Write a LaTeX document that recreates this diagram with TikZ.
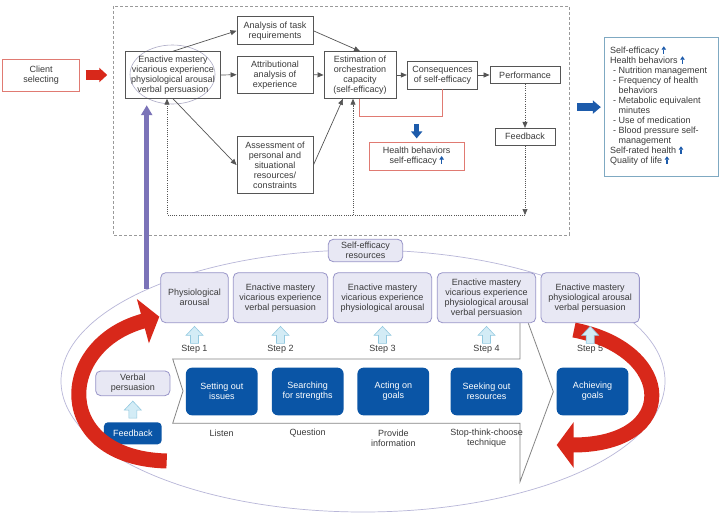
\documentclass[tikz,border=0pt]{standalone}
\usepackage{fontspec}
\setmainfont{Liberation Sans}
\usetikzlibrary{arrows.meta,shapes.geometric}
\definecolor{txtc}{HTML}{3A3A3A}
\definecolor{boxgray}{HTML}{555555}
\definecolor{dashgray}{HTML}{9A9A9A}
\definecolor{redbord}{HTML}{E07A72}
\definecolor{redC}{HTML}{D8281A}
\definecolor{icoblue}{HTML}{1D5BAB}
\definecolor{tealbord}{HTML}{7FA9C2}
\definecolor{purpC}{HTML}{7B73B8}
\definecolor{lavfill}{HTML}{E8E8F4}
\definecolor{lavbord}{HTML}{9894C8}
\definecolor{ellc}{HTML}{B8B6D8}
\definecolor{dblueC}{HTML}{0A55A6}
\definecolor{lbfill}{HTML}{D3ECF6}
\definecolor{lbbord}{HTML}{93C9E0}
\definecolor{chevC}{HTML}{858585}
\newcommand\upicon{\tikz[baseline=0pt,x=1pt,y=1pt]\draw[draw=icoblue,line width=1.1pt,-{Triangle[width=4.5pt,length=3.5pt]}](0,0)--(0,7.5);}
\tikzset{
  topbox/.style={draw=boxgray, line width=0.9pt, fill=white, align=center, inner sep=0pt},
  redbox/.style={draw=redbord, line width=0.9pt, fill=white, align=center, inner sep=0pt},
  lav/.style={draw=lavbord, fill=lavfill, rounded corners=5pt, line width=0.8pt, align=center, inner sep=0pt},
  dbox/.style={fill=dblueC, rounded corners=6pt, text=white, align=center, inner sep=0pt},
  conn/.style={draw=boxgray, line width=0.7pt, -{Triangle[width=5pt,length=6pt]}},
  dotconn/.style={draw=boxgray, line width=0.7pt, dash pattern=on 1.1pt off 1.1pt, -{Triangle[width=5pt,length=6pt]}},
  lbl/.style={align=center, inner sep=0pt},
  redarr/.style={draw=redC, line width=15pt, -{Triangle[width=45pt,length=17pt]}},
  lbup/.pic={\draw[draw=lbbord, fill=lbfill, line width=0.6pt] (-4,0) -- (-4,-8) -- (-8.5,-8) -- (0,-17) -- (8.5,-8) -- (4,-8) -- (4,0) -- cycle;}
}
\begin{document}
\begin{tikzpicture}[x=1pt,y=-1pt, font=\fontsize{9}{10}\selectfont, text=txtc]
\useasboundingbox[fill=white] (0,0) rectangle (719,513);

% ===== top part =====
\draw[dashgray, line width=0.7pt, dash pattern=on 3pt off 2pt] (113,6) rectangle (569,235);

\node[redbox, minimum width=77pt, minimum height=32pt] (client) at (41.2,75) {Client\\selecting};

\draw[ellc!80!gray, line width=0.6pt] (172.5,74.5) ellipse [x radius=42.5, y radius=29.5];
\node[topbox, fill=none, minimum width=94.6pt, minimum height=46.6pt] (enact) at (173,75) {Enactive mastery\\vicarious experience\\physiological arousal\\verbal persuasion};
\node[topbox, minimum width=76pt, minimum height=28.3pt] (task) at (275,30.8) {Analysis of task\\requirements};
\node[topbox, minimum width=76pt, minimum height=37.3pt] (attr) at (275,74.7) {Attributional\\analysis of\\experience};
\node[topbox, minimum width=76pt, minimum height=56.6pt] (assess) at (275,165) {Assessment of\\personal and\\situational\\resources/\\constraints};
\node[topbox, minimum width=72pt, minimum height=46.6pt] (est) at (360,75) {Estimation of\\orchestration\\capacity\\(self-efficacy)};
\node[topbox, minimum width=70.4pt, minimum height=28pt] (cons) at (442.5,75) {Consequences\\of self-efficacy};
\node[topbox, minimum width=70pt, minimum height=16.6pt] (perf) at (525,75) {Performance};
\node[topbox, minimum width=60pt, minimum height=16.7pt] (fb) at (525,136.7) {Feedback};
\node[redbox, minimum width=94.7pt, minimum height=27.7pt] (hb) at (416.7,156.2) {Health behaviors\\self-efficacy \upicon};

\draw[conn] (enact.north) -- (task.west);
\draw[conn] (task.east) -- (est.north);
\draw[conn] (enact.east) -- (attr.west);
\draw[conn] (attr.east) -- (est.west);
\draw[conn] (enact.south) -- (assess.west);
\draw[conn] (assess.east) -- ([xshift=-17pt]est.south);
\draw[conn] (est.east) -- (cons.west);
\draw[conn] (cons.east) -- (perf.west);

\coordinate (fbend) at (525,215);
\draw[dotconn] (perf.south) -- (fb.north);
\draw[dotconn] (fb.south) -- (fbend);
\draw[dotconn] (fbend) -| ([xshift=-6pt]enact.south);
\draw[dotconn] ([xshift=-7pt]est.south |- fbend) -- ([xshift=-7pt]est.south);

\draw[redbord, line width=0.9pt] ([xshift=-1pt]est.south) -- ++(0,17.7) -| (cons.south);
\draw[icoblue, line width=5pt, -{Triangle[width=11pt,length=7pt]}] ([yshift=18pt]hb.north) -- ([yshift=3.5pt]hb.north);

\draw[redC, line width=9.5pt, -{Triangle[width=14pt,length=8pt]}] ([xshift=5.5pt]client.east) -- ([xshift=-18pt]enact.west);

% outcomes box
\node[draw=tealbord, line width=0.9pt, minimum width=113.7pt, minimum height=138.7pt, anchor=north west, inner sep=0pt] (outbox) at (604.3,37.3) {};
\node[anchor=north west, align=left, inner sep=0pt] (outtxt) at (610,45.5) {Self-efficacy \upicon\\Health behaviors \upicon\\\hspace*{3pt}- Nutrition management\\\hspace*{3pt}- Frequency of health\\\hspace*{8.5pt}behaviors\\\hspace*{3pt}- Metabolic equivalent\\\hspace*{8.5pt}minutes\\\hspace*{3pt}- Use of medication\\\hspace*{3pt}- Blood pressure self-\\\hspace*{8.5pt}management\\Self-rated health \upicon\\Quality of life \upicon};
\draw[icoblue, line width=8.3pt, -{Triangle[width=13pt,length=8pt]}] ([xshift=-27pt]outbox.west) -- ([xshift=-3.5pt]outbox.west);

% ===== bottom part =====
\draw[ellc, line width=0.7pt] (363,381) ellipse [x radius=302, y radius=131];

\draw[chevC, line width=0.8pt] (520,323) -- (520,359) -- (172.7,359) -- (183,391) -- (172.7,423.3) -- (520,423.3) -- (520,481.7) -- (553.3,391.7) -- (528.3,323.3);

\node[lav, minimum width=74.4pt, minimum height=22.4pt] (res) at (365.5,250.5) {Self-efficacy\\resources};
\node[lav, minimum width=67.6pt, minimum height=50pt] (b1) at (194.5,297.7) {Physiological\\arousal};
\node[lav, minimum width=94.4pt, minimum height=50pt] (b2) at (280.5,297.7) {Enactive mastery\\vicarious experience\\verbal persuasion};
\node[lav, minimum width=98.4pt, minimum height=50pt] (b3) at (382.5,297.7) {Enactive mastery\\vicarious experience\\physiological arousal};
\node[lav, minimum width=98.4pt, minimum height=50pt] (b4) at (486.5,297.7) {Enactive mastery\\vicarious experience\\physiological arousal\\verbal persuasion};
\node[lav, minimum width=98.3pt, minimum height=50pt] (b5) at (590.2,297.7) {Enactive mastery\\physiological arousal\\verbal persuasion};

\foreach \b/\n in {b1/1,b2/2,b3/3,b4/4,b5/5}{
  \node[lbl] (st\n) at ([yshift=-26.6pt]\b.south) {Step \n};
}

\node[dbox, minimum width=71.7pt, minimum height=47.6pt] (d1) at (221.8,391.5) {Setting out\\issues};
\node[dbox, minimum width=71.7pt, minimum height=47.6pt] (d2) at (307.7,391.5) {Searching\\for strengths};
\node[dbox, minimum width=71.7pt, minimum height=47.6pt] (d3) at (393.3,391.5) {Acting on\\goals};
\node[dbox, minimum width=71.7pt, minimum height=47.6pt] (d4) at (486.5,391.5) {Seeking out\\resources};
\node[dbox, minimum width=71.7pt, minimum height=47.6pt] (d5) at (592.5,391.5) {Achieving\\goals};

\node[lbl] (l1) at (221.7,433.3) {Listen};
\node[lbl] (l2) at (307.7,433.3) {Question};
\node[lbl] (l3) at (393.3,438.3) {Provide\\information};
\node[lbl] (l4) at (486.7,438.3) {Stop-think-choose\\technique};

\node[lav, minimum width=74.3pt, minimum height=24.7pt] (vp) at (132.8,383.3) {Verbal\\persuasion};
\node[dbox, rounded corners=4pt, minimum width=57.7pt, minimum height=22pt] (fbk) at (132.8,433.3) {Feedback};

% red curved arrows
\draw[redarr] (166.7,461) .. controls (52,458) and (55,345) .. (159.3,316.7);
\draw[redarr] (574,330) .. controls (676,350) and (680,445) .. (556.7,445);

% light blue step arrows
\foreach \b in {b1,b2,b3,b4,b5}{
  \pic at ([yshift=-20.3pt]\b.south) {lbup};
}
\pic at ([yshift=4pt]fbk.north) {lbup};

% purple arrow
\coordinate (pstart) at (146.7,288.5);
\draw[purpC, line width=5pt, -{Triangle[width=11pt,length=10pt]}] (pstart) -- ([xshift=-26.3pt,yshift=-6.5pt]enact.south);
\end{tikzpicture}
\end{document}
